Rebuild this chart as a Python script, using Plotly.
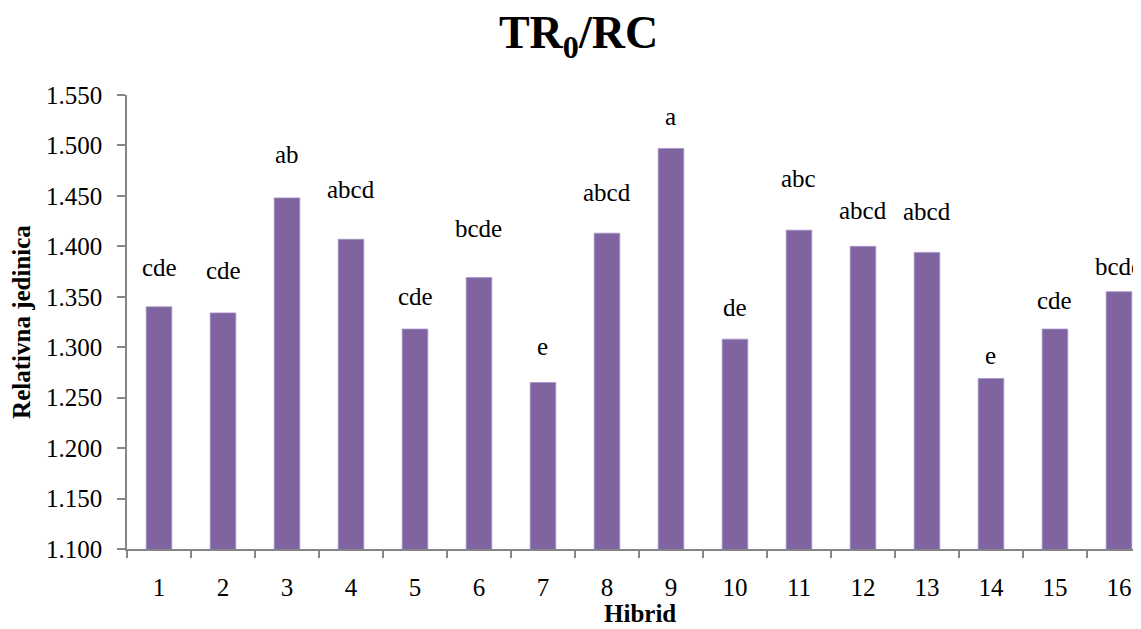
import plotly.graph_objects as go

hybrids = [str(i) for i in range(1, 17)]
tr0_rc = [1.340, 1.334, 1.448, 1.407, 1.318, 1.369, 1.265, 1.413,
          1.497, 1.308, 1.416, 1.400, 1.394, 1.269, 1.318, 1.355]
letters = ["cde", "cde", "ab", "abcd", "cde", "bcde", "e", "abcd",
           "a", "de", "abc", "abcd", "abcd", "e", "cde", "bcde"]
# heights (in axis units) at which the significance letters sit
letter_levels = [1.3795, 1.3756, 1.491, 1.4568, 1.3498, 1.4172, 1.3005, 1.4534,
                 1.5282, 1.3394, 1.4677, 1.436, 1.435, 1.2915, 1.3468, 1.3798]

y_ticks = [1.10, 1.15, 1.20, 1.25, 1.30, 1.35, 1.40, 1.45, 1.50, 1.55]

positions = list(range(1, len(hybrids) + 1))

FONT = "Liberation Serif, Times New Roman, Times, serif"
AXIS_COLOR = "#868686"

fig = go.Figure()
fig.add_trace(go.Bar(
    x=positions, y=tr0_rc,
    marker=dict(color="#8064A2", line=dict(color="#A593C4", width=0.8)),
    width=0.4,
    customdata=hybrids,
    hovertemplate="Hibrid %{customdata}: %{y:.3f}<extra></extra>",
))

for p, lab, lv in zip(positions, letters, letter_levels):
    fig.add_annotation(x=p, y=lv, xref="x", yref="y", text=lab,
                       showarrow=False, yanchor="middle", xanchor="center",
                       font=dict(family=FONT, size=25, color="black"))

# x-axis title placed as paper annotation (centre of the full category band)
fig.add_annotation(x=0.506, y=0, xref="paper", yref="paper", yshift=-64,
                   text="<b>Hibrid</b>", showarrow=False,
                   xanchor="center", yanchor="middle",
                   font=dict(family=FONT, size=25, color="black"))

# The page body has an 8px default margin, so the figure is sized to fit the window.
fig.update_layout(
    width=1133, height=621,
    margin=dict(l=119, r=0, t=87, b=80, autoexpand=False),
    paper_bgcolor="white", plot_bgcolor="white",
    showlegend=False,
    font=dict(family=FONT, size=25, color="black"),
    title=dict(text="<b>TR<sub>0</sub>/RC</b>", x=570.5 / 1133, xanchor="center",
               y=1 - 24 / 621, yanchor="middle",
               font=dict(family=FONT, size=46, color="black")),
)

fig.update_xaxes(
    range=[0.5, 16.344],
    tickmode="array", tickvals=positions, ticktext=hybrids,
    showline=True, linecolor=AXIS_COLOR, linewidth=1.5,
    ticks="outside", ticklen=7, tickcolor="rgba(0,0,0,0)",
    minor=dict(tickmode="linear", tick0=0.5, dtick=1, ticks="outside",
               ticklen=7, tickcolor=AXIS_COLOR, tickwidth=1.5, showgrid=False),
    ticklabelstandoff=8,
    showgrid=False, zeroline=False, automargin=False,
    tickfont=dict(family=FONT, size=25, color="black"),
)

fig.update_yaxes(
    range=[1.10, 1.55], tickvals=y_ticks, tickformat=".3f",
    showline=True, linecolor=AXIS_COLOR, linewidth=1.5,
    ticks="outside", ticklen=8, tickcolor=AXIS_COLOR, tickwidth=1.5,
    ticklabelstandoff=10,
    showgrid=False, zeroline=False, automargin=False,
    tickfont=dict(family=FONT, size=25, color="black"),
    title=dict(text="<b>Relativna jedinica</b>", standoff=10,
               font=dict(family=FONT, size=25, color="black")),
)

fig.write_html("out.html")
